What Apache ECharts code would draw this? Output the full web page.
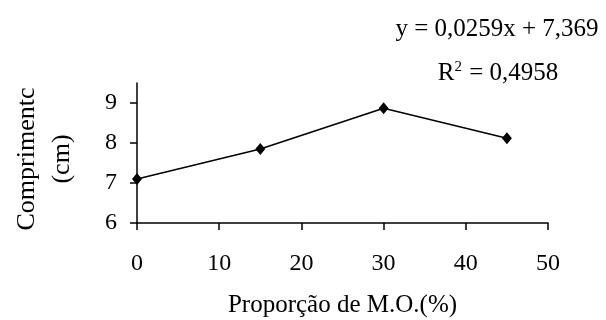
<!DOCTYPE html>
<html>
<head>
<meta charset="utf-8">
<script src="https://cdn.jsdelivr.net/npm/echarts@6/dist/echarts.min.js"></script>
<style>
html,body{margin:0;padding:0;background:#fff;}
#c{width:606px;height:320px;}
</style>
</head>
<body>
<div id="c"></div>
<script>
const xValues = [0, 15, 30, 45];
const yValues = [7.10, 7.85, 8.87, 8.12];
const yTicks = [6, 7, 8, 9];
const xTitle = 'Proporção de M.O.(%)';
const yTitle = 'Comprimentc\n(cm)';
const equationText = 'y = 0,0259x + 7,369';
const r2Value = '0,4958';

const FONT = '"Liberation Serif", "Times New Roman", serif';
const chart = echarts.init(document.getElementById('c'));
chart.setOption({
  animation: false,
  backgroundColor: '#fff',
  title: [
    { text: equationText, left: 492, top: 12, textAlign: 'center',
      textStyle: { fontFamily: FONT, fontSize: 25, fontWeight: 'normal', color: '#000' } },
    { text: 'R{sup|2} = ' + r2Value, left: 493, top: 55, textAlign: 'center',
      textStyle: { fontFamily: FONT, fontSize: 25, fontWeight: 'normal', color: '#000',
        rich: { sup: { fontFamily: FONT, fontSize: 15, verticalAlign: 'top', padding: [0, 1, 12, 0], color: '#000' } } } }
  ],
  grid: { left: 137, right: 58, top: 83, bottom: 97, containLabel: false },
  xAxis: {
    type: 'value', min: 0, max: 50, interval: 10,
    name: xTitle, nameLocation: 'middle', nameGap: 70,
    nameTextStyle: { fontFamily: FONT, fontSize: 25, color: '#000' },
    axisLine: { lineStyle: { color: '#000', width: 1.5 } },
    axisTick: { show: true, inside: false, length: 7, lineStyle: { color: '#000', width: 1.5 } },
    axisLabel: { margin: 29, fontFamily: FONT, fontSize: 24, color: '#000' },
    splitLine: { show: false }
  },
  yAxis: {
    type: 'value', min: 6, max: 9.5, interval: 1,
    name: yTitle, nameLocation: 'middle', nameGap: 57, nameRotate: 90,
    nameTextStyle: { fontFamily: FONT, fontSize: 26, color: '#000', lineHeight: 35, padding: [0, 12, 0, 0] },
    axisLine: { show: true, lineStyle: { color: '#000', width: 1.5 } },
    axisTick: { show: true, inside: false, length: 7, customValues: yTicks, lineStyle: { color: '#000', width: 1.5 } },
    axisLabel: { margin: 20, fontFamily: FONT, fontSize: 24, color: '#000', customValues: yTicks },
    splitLine: { show: false }
  },
  series: [{
    type: 'line',
    data: xValues.map((x, i) => [x, yValues[i]]),
    symbol: 'diamond', symbolSize: [10, 12],
    itemStyle: { color: '#000' },
    lineStyle: { color: '#000', width: 1.5 }
  }]
});
</script>
</body>
</html>
